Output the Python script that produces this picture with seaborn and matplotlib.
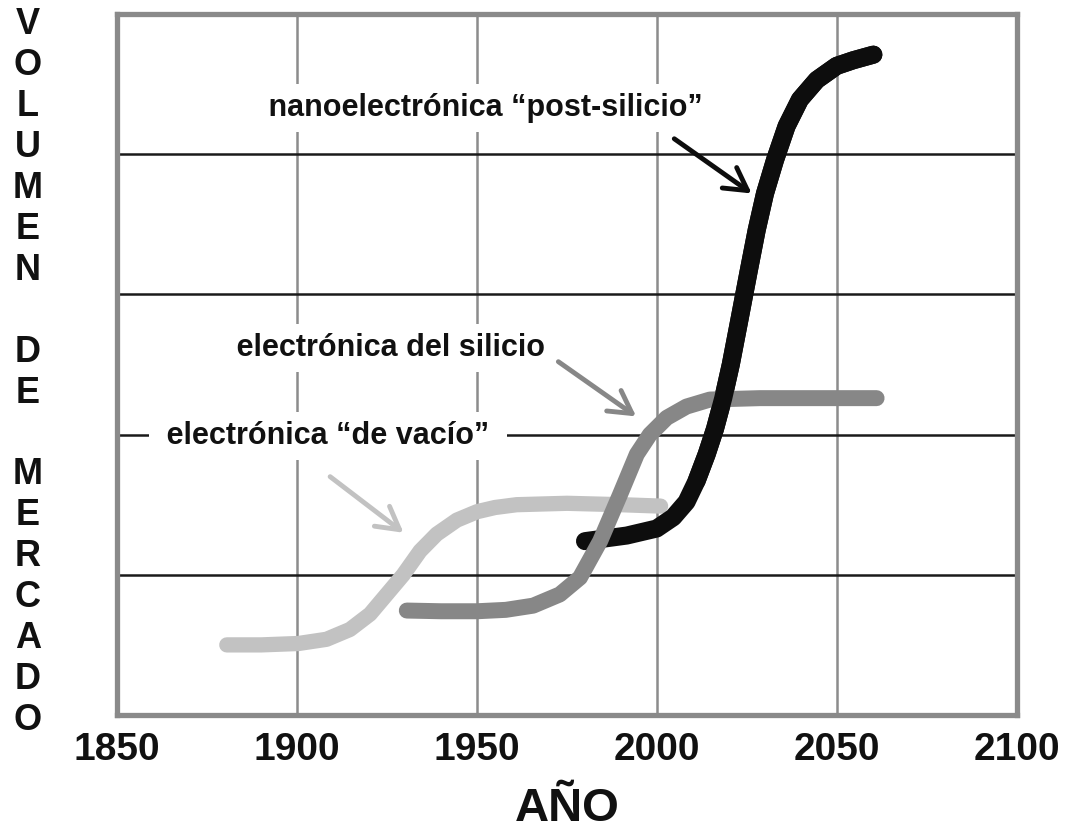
import pandas as pd
import matplotlib
matplotlib.use("Agg")
import matplotlib.pyplot as plt
import seaborn as sns


# curves (year, market volume in grid units)
vacio_year = [1880.5, 1890, 1900.4, 1908.2, 1914.7, 1920.3, 1924.9, 1929.5, 1934.2, 1938.8, 1944.4, 1950, 1955, 1961, 1975, 1990, 2001]
vacio_vol = [0.50, 0.50, 0.51, 0.54, 0.61, 0.72, 0.86, 1.00, 1.17, 1.29, 1.39, 1.45, 1.48, 1.50, 1.51, 1.50, 1.49]

silicio_year = [1930.5, 1940, 1950, 1958, 1965.6, 1973, 1978.6, 1984.2, 1989.7, 1994.4, 1998, 2002.7, 2008.2, 2014.7, 2028.6, 2045, 2061]
silicio_vol = [0.745, 0.74, 0.74, 0.75, 0.78, 0.86, 0.98, 1.24, 1.57, 1.86, 2.00, 2.12, 2.20, 2.25, 2.26, 2.26, 2.26]

nano_year = [1980, 1991.6, 1999.9, 2004.5, 2008.2, 2011, 2013.8, 2016.1, 2018.4, 2020.5, 2022.9, 2025.5, 2027.7, 2030,
             2032.8, 2036, 2039.7, 2044.4, 2049.9, 2054.5, 2060.1]
nano_vol = [1.24, 1.28, 1.33, 1.41, 1.52, 1.67, 1.86, 2.04, 2.26, 2.50, 2.82, 3.17, 3.46, 3.72,
            3.96, 4.20, 4.39, 4.53, 4.63, 4.67, 4.71]

year_ticks = [1850, 1900, 1950, 2000, 2050, 2100]
level_lines = [1, 2, 3, 4]

labels = ["electrónica “de vacío”", "electrónica del silicio", "nanoelectrónica “post-silicio”"]
label_pos = [(1908.6, 1.99), (1926.1, 2.62), (1952.5, 4.33)]
arrow_tail = [(1909.2, 1.70), (1972.6, 2.52), (2004.8, 4.11)]
arrow_head = [(1929.6, 1.30), (1994.2, 2.13), (2026.3, 3.72)]
colors = ["#c2c2c2", "#878787", "#0d0d0d"]

ylabel_letters = "VOLUMEN DE MERCADO"

sns.set_style("white")
plt.rcParams["font.family"] = ["Liberation Sans", "DejaVu Sans"]
plt.rcParams["font.weight"] = "bold"
plt.rcParams["text.color"] = "#111111"
plt.rcParams["xtick.color"] = "#111111"
plt.rcParams["axes.labelcolor"] = "#111111"

fig = plt.figure(figsize=(10.68, 8.34), dpi=100)
ax = fig.add_axes([117 / 1068, 1 - 715 / 834, 900 / 1068, 701 / 834])

vacio = pd.DataFrame({"year": vacio_year, "vol": vacio_vol})
silicio = pd.DataFrame({"year": silicio_year, "vol": silicio_vol})
nano = pd.DataFrame({"year": nano_year, "vol": nano_vol})

line_kw = dict(sort=False, solid_capstyle="round", solid_joinstyle="round", ax=ax)
sns.lineplot(data=vacio, x="year", y="vol", color=colors[0], lw=11, zorder=3, **line_kw)
sns.lineplot(data=nano, x="year", y="vol", color=colors[2], lw=13, zorder=4, **line_kw)
sns.lineplot(data=silicio, x="year", y="vol", color=colors[1], lw=11.5, zorder=5, **line_kw)
# upper part of the black curve sits over the silicon plateau
upper = nano[nano["year"] >= 2011]
sns.lineplot(data=upper, x="year", y="vol", color=colors[2], lw=13, zorder=6, **line_kw)

ax.set_xlim(1850, 2100)
ax.set_ylim(0, 5)
ax.set_xticks(year_ticks)
ax.set_xticklabels([str(y) for y in year_ticks], fontsize=28, fontweight="bold")
ax.set_yticks(level_lines)
ax.set_yticklabels([])
ax.tick_params(axis="both", length=0)
ax.tick_params(axis="x", pad=12)

ax.set_axisbelow(True)
ax.xaxis.grid(True, color="#8c8c8c", lw=1.8)
ax.yaxis.grid(True, color="#1a1a1a", lw=1.8)

for side in ax.spines.values():
    side.set_color("#8a8a8a")
    side.set_linewidth(3.8)
    side.set_zorder(7)

ax.set_xlabel("AÑO", fontsize=34, fontweight="bold", labelpad=14)
ax.set_ylabel("")

for i, txt in enumerate(labels):
    ax.text(label_pos[i][0], label_pos[i][1], " " + txt + " ", fontsize=22, fontweight="bold",
            ha="center", va="center", zorder=2,
            bbox=dict(boxstyle="square,pad=0.3", fc="white", ec="none"))
    ax.annotate("", xy=arrow_head[i], xytext=arrow_tail[i], zorder=2,
                arrowprops=dict(arrowstyle="->,head_length=0.8,head_width=0.45",
                                color=colors[i], lw=3.5, mutation_scale=20,
                                shrinkA=0, shrinkB=0))

for i, ch in enumerate(ylabel_letters):
    fig.text(28 / 1068, 1 - (25 + 40.9 * i) / 834, ch, fontsize=26,
             fontweight="bold", ha="center", va="center")

fig.savefig("out.png", dpi=100, facecolor="white")
